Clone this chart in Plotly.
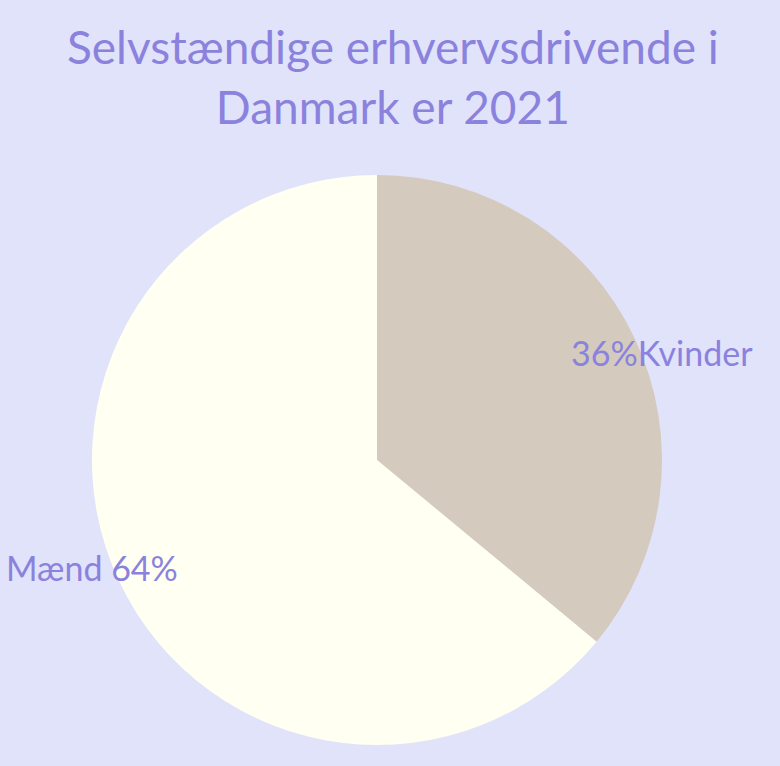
import math
import plotly.graph_objects as go

labels = ["Kvinder", "Mænd"]
values = [36, 64]
text_labels = ["36%Kvinder", "Mænd 64%"]
colors = ["#D4CABE", "#FFFFF2"]

BG = "#E1E3FB"
TXT = "#8A82DD"

W, H = 780, 766
ml, mr, mt, mb = 92, 118, 175, 21
side = W - ml - mr

fig = go.Figure(go.Pie(
    labels=labels, values=values, sort=False, direction="clockwise", rotation=0,
    marker=dict(colors=colors, line=dict(width=0)),
    textinfo="none", hoverinfo="none", showlegend=False,
))

# label annotations placed around the rim along each slice's angle
total = sum(values)
cum = 0
anns = []
for v, t in zip(values, text_labels):
    mid = ((cum + v / 2) / total * 360 + 4.5) * math.pi / 180
    cum += v
    r = 0.535
    x = 0.5 + r * math.sin(mid)
    y = 0.5 + r * math.cos(mid)
    anns.append(dict(x=x, y=y, xref="paper", yref="paper", text=t, showarrow=False,
                     font=dict(size=34, color=TXT, family="Lato"),
                     xanchor="center", yanchor="middle"))

anns.append(dict(x=(393 - ml) / side, y=1 + (175 - 77) / side, xref="paper", yref="paper",
                 text="Selvstændige erhvervsdrivende i<br>Danmark er 2021",
                 showarrow=False, xanchor="center", yanchor="middle",
                 font=dict(size=46, color=TXT, family="Lato")))

fig.update_layout(
    width=W, height=H,
    paper_bgcolor=BG, plot_bgcolor=BG,
    margin=dict(l=ml, r=mr, t=mt, b=mb),
    annotations=anns,
)

fig.write_html("out.html")
